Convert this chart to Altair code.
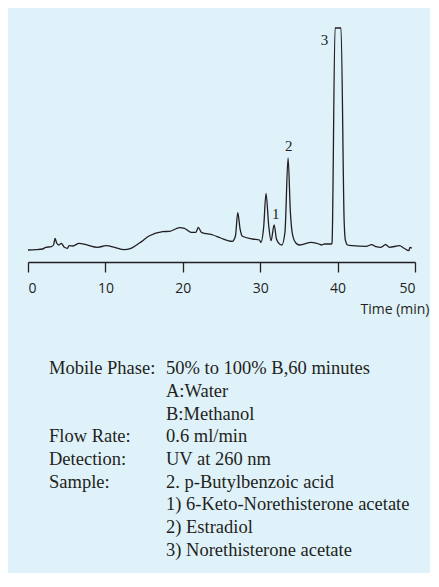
import altair as alt
import pandas as pd

# Chromatogram trace (time in min, detector signal in arbitrary units)
time_min = [0, 1.0, 1.9, 2.3, 3.0, 3.3, 3.5, 3.7, 4.0, 4.3, 4.7, 5.1, 5.3, 5.8,
            6.6, 7.5, 9.0, 10.1, 11.2, 12.4, 13.3, 14.4, 15.7, 17.4, 18.3, 19.6,
            20.2, 21.1, 21.7, 22.0, 22.4, 23.9, 24.9, 26.4, 26.8, 27.1, 27.4, 27.7,
            29.0, 29.9, 30.1, 30.45, 30.75, 31.1, 31.4, 31.8, 32.1, 32.5, 32.8,
            33.2, 33.6, 33.9, 34.2, 34.6, 35.1, 36.6, 37.6, 37.9, 38.3, 39.2,
            39.28, 39.67, 40.44, 40.85, 41.0, 41.3, 41.9, 43.7, 44.4, 44.96, 45.6,
            46.2, 46.7, 48.0, 48.6, 49.2, 49.35, 49.6]
signal = [12, 12.3, 13, 14.7, 15.3, 17, 23.7, 19, 17, 18.7, 14.7, 13.7, 16.3, 16,
          18.7, 17.3, 14.7, 16.3, 14.7, 12.3, 13.7, 19, 26.3, 30.3, 30.7, 34.3,
          33.7, 29.7, 29.7, 34.7, 29.7, 27, 24, 20.7, 26, 49.3, 33, 25.7,
          23, 22, 19.7, 35, 68.7, 36.3, 21.3, 37, 23, 18, 17,
          30, 104, 49.7, 26.3, 19, 17, 19.7, 18, 17, 18, 18,
          19, 234, 234, 40, 22, 17, 16.3, 15.7, 17.3, 15.3, 14.7,
          17.3, 14.7, 16.3, 13.7, 11.3, 14.7, 13.7]

peak_names = ["1", "2", "3"]
peak_time = [32.0, 33.7, 38.3]
peak_signal = [48, 116, 222]

x_ticks = [0, 10, 20, 30, 40, 50]

cond_rows = [0, 3, 4, 5]
cond_labels = ["Mobile Phase:", "Flow Rate:", "Detection:", "Sample:"]
value_rows = [0, 1, 2, 3, 4, 5, 6, 7, 8]
value_texts = ["50% to 100% B,60 minutes", "A:Water", "B:Methanol",
               "0.6 ml/min", "UV at 260 nm", "2. p-Butylbenzoic acid",
               "1) 6-Keto-Norethisterone acetate", "2) Estradiol",
               "3) Norethisterone acetate"]

INK = "#231f20"
BG = "#dff2fa"

trace = pd.DataFrame({"t": time_min, "s": signal})
peaks = pd.DataFrame({"t": peak_time, "s": peak_signal, "name": peak_names})

xscale = alt.Scale(domain=[0, 50], nice=False, zero=False)
yscale = alt.Scale(domain=[0, 234], nice=False, zero=True)

line = alt.Chart(trace).mark_line(color=INK, strokeWidth=1.3, interpolate="monotone").encode(
    x=alt.X("t:Q", scale=xscale,
            axis=alt.Axis(values=x_ticks, title="Time (min)", grid=False,
                          domainColor=INK, domainWidth=1.3, tickColor=INK,
                          tickWidth=1.3, tickSize=10, labelFont="Open Sans",
                          labelFontSize=14, labelColor=INK, labelPadding=9,
                          labelFlush=True, titleFont="Open Sans", titleFontSize=14,
                          titleFontWeight="normal", titleColor=INK,
                          titleAnchor="end", titleAlign="right",
                          titleX=401, titleY=51, titleBaseline="alphabetic")),
    y=alt.Y("s:Q", scale=yscale, axis=None),
)

labels = alt.Chart(peaks).mark_text(font="Liberation Serif", fontSize=15, color=INK,
                                    align="center", baseline="middle").encode(
    x=alt.X("t:Q", scale=xscale),
    y=alt.Y("s:Q", scale=yscale),
    text="name:N",
)

top = alt.layer(line, labels).properties(width=387, height=234)

cond_df = pd.DataFrame({"row": cond_rows, "txt": cond_labels})
val_df = pd.DataFrame({"row": value_rows, "txt": value_texts})
yrow = alt.Y("row:O", axis=None, scale=alt.Scale(domain=value_rows))

cond_text = alt.Chart(cond_df).mark_text(font="Liberation Serif", fontSize=18.5, color=INK,
                                         align="left", baseline="middle").encode(
    x=alt.value(21), y=yrow, text="txt:N")
val_text = alt.Chart(val_df).mark_text(font="Liberation Serif", fontSize=18.5, color=INK,
                                       align="left", baseline="middle").encode(
    x=alt.value(138), y=yrow, text="txt:N")

bottom = alt.layer(cond_text, val_text).properties(width=387, height=204)

chart = alt.vconcat(top, bottom, spacing=41).properties(
    padding={"left": 17, "top": 17, "right": 1, "bottom": 12},
    background=BG,
).configure_view(stroke=None)

chart.save("out.html", embed_options={"renderer": "svg", "actions": False})
